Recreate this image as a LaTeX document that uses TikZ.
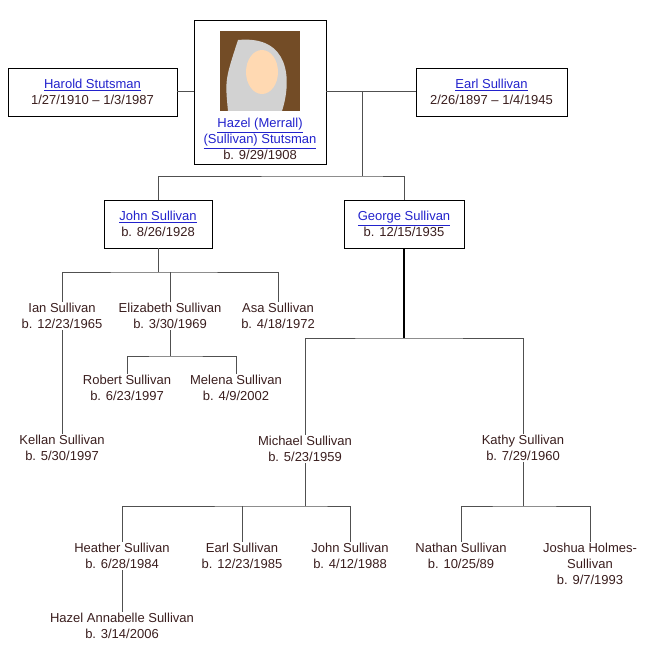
\documentclass[tikz,border=0pt]{standalone}
\usepackage{fontspec}
\setmainfont{Liberation Sans}
\definecolor{txt}{HTML}{3A1E1E}
\definecolor{lnk}{HTML}{2222CC}
\definecolor{edge}{HTML}{505050}
\newcommand{\lk}[1]{\textcolor{lnk}{\underline{#1}}}
\tikzset{
  person/.style={align=center, text=txt, inner xsep=0pt, inner ysep=1.5pt, font=\fontsize{13}{16}\selectfont},
  box/.style={person, draw=black, line width=0.8pt},
  link/.style={draw=edge, line width=1pt},
}
\begin{document}
\begin{tikzpicture}[x=1pt,y=-1pt]
  \useasboundingbox (0,0) rectangle (653,658);

  % top row
  \node [box, minimum width=169, minimum height=48] (harold) at (92.5,92)
    {\lk{Harold Stutsman}\\1/27/1910 -- 1/3/1987};
  \node [box, minimum width=132, minimum height=144] (hazel) at (260,92) {};
  \fill [brown!60!black] (220,31) rectangle (300,111);
  \fill [gray!35] (238,40) .. controls (290,35) and (292,80) .. (282,111) -- (228,111) .. controls (225,80) .. (238,40);
  \fill [orange!30!white] (262,72) ellipse (16 and 22);
  \node [person] (hazeltxt) at (260,139)
    {\lk{Hazel (Merrall)}\\\lk{(Sullivan) Stutsman}\\b. 9/29/1908};
  \node [box, minimum width=151, minimum height=48] (earl) at (491.5,92)
    {\lk{Earl Sullivan}\\2/26/1897 -- 1/4/1945};

  \draw [link] (harold.east) -- (hazel.west);
  \draw [link] (hazel.east) -- (earl.west);
  \coordinate (m1) at (362,92);
  \coordinate (s1) at (362,176);
  \draw [link] (m1) -- (s1);

  % children of Hazel and Earl
  \node [box, minimum width=108, minimum height=48] (john) at (158,224)
    {\lk{John Sullivan}\\b. 8/26/1928};
  \node [box, minimum width=120, minimum height=48] (george) at (404,224)
    {\lk{George Sullivan}\\b. 12/15/1935};
  \draw [link] (john.north) |- (s1) -| (george.north);

  % John's children
  \node [person] (ian) at (62,316) {Ian Sullivan\\b. 12/23/1965};
  \node [person] (elizabeth) at (170,316) {Elizabeth Sullivan\\b. 3/30/1969};
  \node [person] (asa) at (278,316) {Asa Sullivan\\b. 4/18/1972};
  \coordinate (s2) at (158,272);
  \draw [link] (john.south) -- (s2);
  \draw [link] (ian.north) |- (s2) -| (asa.north);
  \draw [link] (elizabeth.north) -- (elizabeth.north |- s2);

  \node [person] (robert) at (127,388) {Robert Sullivan\\b. 6/23/1997};
  \node [person] (melena) at (236,388) {Melena Sullivan\\b. 4/9/2002};
  \coordinate (s3) at (170,356);
  \draw [link] (elizabeth.south) -- (s3);
  \draw [link] (robert.north) |- (s3) -| (melena.north);

  \node [person] (kellan) at (62,448) {Kellan Sullivan\\b. 5/30/1997};
  \draw [link] (ian.south) -- (kellan.north);

  % George's children
  \node [person] (michael) at (305,449) {Michael Sullivan\\b. 5/23/1959};
  \node [person] (kathy) at (523,448) {Kathy Sullivan\\b. 7/29/1960};
  \coordinate (s4) at (404,338);
  \draw [draw=black, line width=2pt] (george.south) -- (s4);
  \draw [link] (michael.north) |- (s4) -| (kathy.north);

  \node [person] (heather) at (122,556) {Heather Sullivan\\b. 6/28/1984};
  \node [person] (earl2) at (242,556) {Earl Sullivan\\b. 12/23/1985};
  \node [person] (john2) at (350,556) {John Sullivan\\b. 4/12/1988};
  \coordinate (s5) at (305,506);
  \draw [link] (michael.south) -- (s5);
  \draw [link] (heather.north) |- (s5) -| (john2.north);
  \draw [link] (earl2.north) -- (earl2.north |- s5);

  \node [person] (nathan) at (461,556) {Nathan Sullivan\\b. 10/25/89};
  \node [person] (joshua) at (590,564) {Joshua Holmes-\\Sullivan\\b. 9/7/1993};
  \coordinate (s6) at (523,506);
  \draw [link] (kathy.south) -- (s6);
  \draw [link] (nathan.north) |- (s6) -| (joshua.north);

  \node [person] (annabelle) at (122,626) {Hazel Annabelle Sullivan\\b. 3/14/2006};
  \draw [link] (heather.south) -- (annabelle.north);
\end{tikzpicture}
\end{document}
